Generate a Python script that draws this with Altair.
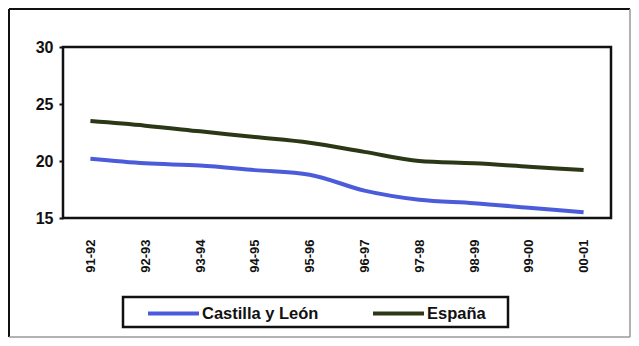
import altair as alt
import pandas as pd

seasons = ["91-92", "92-93", "93-94", "94-95", "95-96", "96-97", "97-98", "98-99", "99-00", "00-01"]
castilla = [20.2, 19.8, 19.6, 19.2, 18.8, 17.4, 16.6, 16.3, 15.9, 15.5]
espana = [23.5, 23.1, 22.6, 22.1, 21.6, 20.8, 20.0, 19.8, 19.5, 19.2]
series_names = ["Castilla y León", "España"]
series_colors = ["#4B5CDB", "#2B3816"]

rows = []
for s, c, e in zip(seasons, castilla, espana):
    rows.append({"curso": s, "serie": series_names[0], "valor": c})
    rows.append({"curso": s, "serie": series_names[1], "valor": e})
df = pd.DataFrame(rows)

W, H = 548, 171
FONT = "Liberation Sans"

lines = alt.Chart(df).mark_line(strokeWidth=4, interpolate="monotone").encode(
    x=alt.X("curso:O", sort=seasons, title=None,
            scale=alt.Scale(type="point", padding=0.5),
            axis=alt.Axis(labelAngle=270, labelAlign="right", labelBaseline="middle",
                          ticks=False, labelPadding=21, domain=False,
                          labelFont=FONT, labelFontSize=13, labelFontWeight="bold",
                          labelColor="#111")),
    y=alt.Y("valor:Q", title=None,
            scale=alt.Scale(domain=[15, 30], nice=False, zero=False),
            axis=alt.Axis(values=[15, 20, 25, 30], grid=False, domain=False,
                          tickSize=4, tickColor="#111", tickWidth=2, labelPadding=6,
                          labelFont=FONT, labelFontSize=16, labelFontWeight="bold",
                          labelColor="#111")),
    color=alt.Color("serie:N", sort=series_names,
                    scale=alt.Scale(domain=series_names, range=series_colors),
                    legend=alt.Legend(title=None, orient="none", direction="horizontal",
                                      legendX=83, legendY=239, padding=0,
                                      symbolType="stroke", symbolSize=2600,
                                      symbolStrokeWidth=4, labelOffset=1,
                                      columnPadding=46,
                                      labelFont=FONT, labelFontSize=16.5,
                                      labelFontWeight="bold", labelColor="#111")),
)

one = pd.DataFrame({"k": [0]})
legend_box = alt.Chart(one).mark_rect(fill=None, stroke="#111", strokeWidth=2.5).encode(
    x=alt.value(60), x2=alt.value(445), y=alt.value(250), y2=alt.value(280))

frame_dark = alt.Chart(one).mark_rule(stroke="#111", strokeWidth=2).encode(
    x=alt.value(-54), x2=alt.value(567), y=alt.value(-38), y2=alt.value(-38))
frame_dark2 = alt.Chart(one).mark_rule(stroke="#111", strokeWidth=2).encode(
    x=alt.value(-54), y=alt.value(-38), y2=alt.value(290))
frame_light = alt.Chart(one).mark_rule(stroke="#999", strokeWidth=1.5).encode(
    x=alt.value(567), y=alt.value(-38), y2=alt.value(290))
frame_light2 = alt.Chart(one).mark_rule(stroke="#999", strokeWidth=1.5).encode(
    x=alt.value(-54), x2=alt.value(567), y=alt.value(290), y2=alt.value(290))

chart = alt.layer(lines, legend_box, frame_dark, frame_dark2, frame_light, frame_light2).properties(
    width=W, height=H,
    autosize=alt.AutoSizeParams(type="none"),
    padding={"left": 55, "top": 39, "right": 20, "bottom": 120},
    background="white",
).configure_view(stroke="#111", strokeWidth=2.5)

chart.save("out.html", embed_options={"renderer": "svg", "actions": False})
